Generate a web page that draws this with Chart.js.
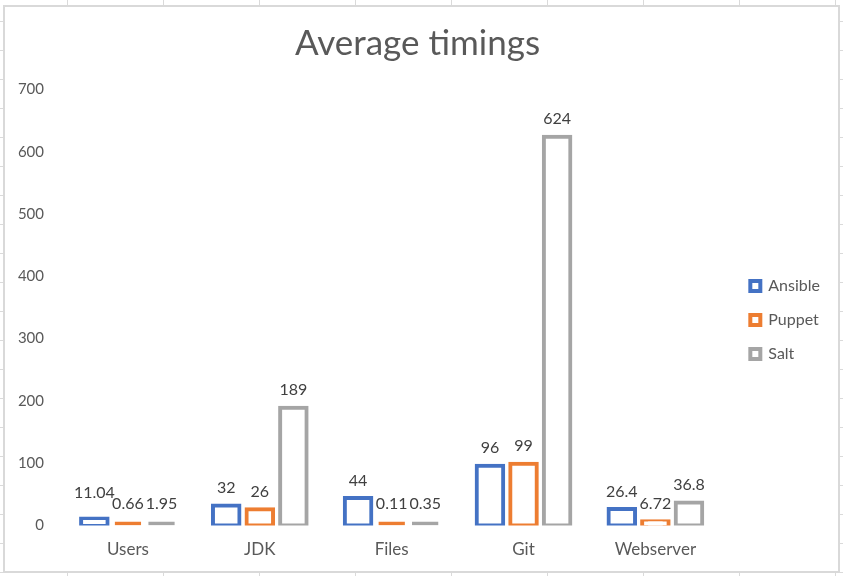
<!DOCTYPE html>
<html>
<head>
<meta charset="utf-8">
<script src="https://cdn.jsdelivr.net/npm/chart.js"></script>
<style>
html, body { margin: 0; padding: 0; }
body {
    width: 843px;
    height: 576px;
    overflow: hidden;
    position: relative;
    background-color: #fff;
    background-image:
        linear-gradient(to right, #dadada 1px, transparent 1px),
        linear-gradient(to bottom, #dadada 1px, transparent 1px);
    background-size: 96px 29px;
    background-position: 67px 21px;
}
#box {
    position: absolute;
    left: 3px;
    top: 5px;
    width: 837px;
    height: 568px;
    box-sizing: border-box;
    border: 2px solid #d9d9d9;
    background: #fff;
}
canvas { display: block; }
</style>
</head>
<body>
<div id="box"><canvas id="chart" width="833" height="564"></canvas></div>
<script>
const categories = ["Users", "JDK", "Files", "Git", "Webserver"];
const ansible = [11.04, 32, 44, 96, 26.4];
const puppet = [0.66, 26, 0.11, 99, 6.72];
const salt = [1.95, 189, 0.35, 624, 36.8];
const yMin = 0;
const yMax = 700;
const yStep = 100;

const TEXT = "#595959";
const FONT = "Lato";

// values written above each bar, pushed up a bit when two collide
const barLabels = {
    id: "barLabels",
    afterDatasetsDraw(chart) {
        const ctx = chart.ctx;
        ctx.save();
        ctx.font = `16px ${FONT}`;
        ctx.fillStyle = "#404040";
        ctx.textAlign = "center";
        ctx.textBaseline = "middle";
        const items = [];
        chart.data.datasets.forEach((ds, i) => {
            chart.getDatasetMeta(i).data.forEach((bar, j) => {
                const text = String(ds.data[j]);
                items.push({ text, x: bar.x, y: bar.y - 17.5, w: ctx.measureText(text).width });
            });
        });
        items.sort((a, b) => b.y - a.y);
        const placed = [];
        const h = 11;
        items.forEach(it => {
            placed.forEach(p => {
                if (Math.abs(it.x - p.x) < (it.w + p.w) / 2 && Math.abs(it.y - p.y) < h) it.y = p.y - h;
            });
            placed.push(it);
            ctx.fillText(it.text, it.x, it.y);
        });
        ctx.restore();
    }
};

// legend sits a little lower than the plot's middle
const legendNudge = {
    id: "legendNudge",
    afterLayout(chart) {
        chart.legend.top += 12.5;
        chart.legend.bottom += 12.5;
    }
};

function series(label, data, color) {
    return {
        label,
        data,
        borderColor: color,
        backgroundColor: "#fff",
        borderWidth: 4,
        borderSkipped: false,
        minBarLength: 4,
        // outline straddles the bar edge, except on the near-zero slivers
        inflateAmount: c => (c.raw >= 3 ? 2 : 0),
        categoryPercentage: 0.764,
        barPercentage: 0.79,
    };
}

new Chart(document.getElementById("chart").getContext("2d"), {
    type: "bar",
    data: {
        labels: categories,
        datasets: [
            series("Ansible", ansible, "#4472C4"),
            series("Puppet", puppet, "#ED7D31"),
            series("Salt", salt, "#A5A5A5"),
        ]
    },
    options: {
        responsive: false,
        animation: false,
        layout: { padding: { left: 0, right: 8, top: 0, bottom: 0 } },
        plugins: {
            title: {
                display: true,
                text: "Average timings",
                color: TEXT,
                font: { family: FONT, size: 35, weight: "normal" },
                padding: { top: 15.5, bottom: 24.9 }
            },
            legend: {
                position: "right",
                fullSize: false,
                labels: {
                    color: TEXT,
                    font: { family: FONT, size: 16 },
                    boxWidth: 10,
                    boxHeight: 10,
                    padding: 18,
                    generateLabels: chart => Chart.defaults.plugins.legend.labels
                        .generateLabels(chart)
                        .map(l => ({ ...l, lineWidth: 4 }))
                }
            },
            tooltip: { enabled: false }
        },
        scales: {
            x: {
                grid: { display: false, drawTicks: false },
                border: { display: false },
                ticks: { color: TEXT, font: { family: FONT, size: 17 }, padding: 14 },
                afterFit(s) { s.height = 45.5; }
            },
            y: {
                min: yMin,
                max: yMax,
                grid: { display: false, drawTicks: false },
                border: { display: false },
                ticks: { stepSize: yStep, color: TEXT, font: { family: FONT, size: 15 }, padding: 18 },
                afterFit(s) { s.width = 57; }
            },
            gap: {
                axis: "y",
                position: "right",
                min: 0,
                max: 1,
                grid: { display: false, drawTicks: false },
                border: { display: false },
                ticks: { display: false },
                afterFit(s) { s.width = 11; }
            }
        }
    },
    plugins: [barLabels, legendNudge]
});
</script>
</body>
</html>
